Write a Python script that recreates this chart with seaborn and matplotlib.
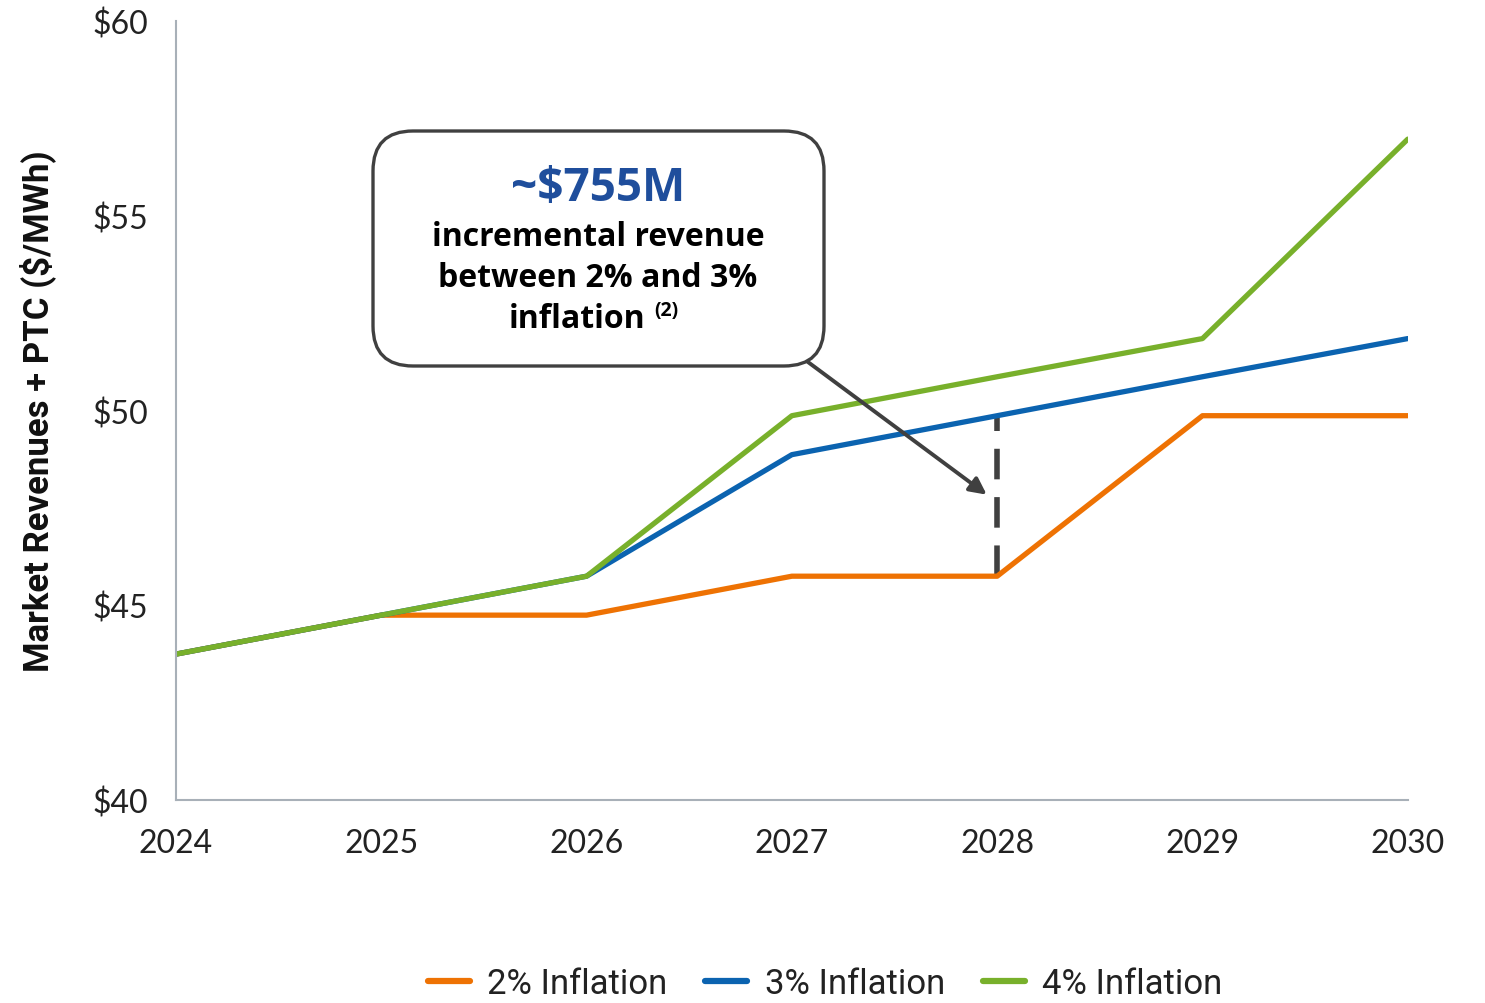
import numpy as np
import pandas as pd
import matplotlib
matplotlib.use("Agg")
import matplotlib.pyplot as plt
import seaborn as sns
from matplotlib.patches import FancyBboxPatch
from matplotlib.transforms import IdentityTransform

years = [2024, 2025, 2026, 2027, 2028, 2029, 2030]
infl_2 = [43.75, 44.75, 44.75, 45.75, 45.75, 49.87, 49.87]
infl_3 = [43.75, 44.75, 45.75, 48.87, 49.87, 50.87, 51.85]
infl_4 = [43.75, 44.75, 45.75, 49.87, 50.87, 51.85, 56.97]
series_names = ["2% Inflation", "3% Inflation", "4% Inflation"]
colors = ["#EE7203", "#0B63B0", "#78B02B"]
y_ticks = [40, 45, 50, 55, 60]
gap_year = 2028

sns.set_style("white")
plt.rcParams["font.family"] = ["Lato", "DejaVu Sans"]

df = pd.DataFrame({
    "year": years * 3,
    "value": infl_2 + infl_3 + infl_4,
    "series": [series_names[0]] * 7 + [series_names[1]] * 7 + [series_names[2]] * 7,
})

fig = plt.figure(figsize=(14.85, 10.04), dpi=100)
ax = fig.add_axes([0.1185, 0.202, 0.8295, 0.776])

sns.lineplot(data=df, x="year", y="value", hue="series", palette=colors,
             linewidth=3.8, ax=ax, legend=True)

# dashed gap marker at 2028
i = years.index(gap_year)
ax.plot([gap_year, gap_year], [infl_2[i], infl_3[i]], color="#404040",
        lw=4, ls=(0, (5.5, 3.2)), zorder=1)

ax.set_xlim(2024, 2030)
ax.set_ylim(40, 60)
ax.set_xticks(years)
ax.set_xticklabels([str(y) for y in years], fontsize=23, color="#222222")
ax.set_yticks(y_ticks)
ax.set_yticklabels([f"${v}" for v in y_ticks], fontsize=23, color="#222222")
ax.set_xlabel("")
ax.set_ylabel("Market Revenues + PTC ($/MWh)", fontsize=25, fontweight="bold",
              family=["Roboto", "DejaVu Sans"], labelpad=26, color="#111111")
for s in ["top", "right"]:
    ax.spines[s].set_visible(False)
for s in ["left", "bottom"]:
    ax.spines[s].set_color("#A8B0B8")
    ax.spines[s].set_linewidth(1.5)
ax.tick_params(axis="both", color="#A8B0B8", length=8, width=1.5, direction="out")
ax.tick_params(axis="x", pad=12)
ax.tick_params(axis="y", pad=12)

# callout box (pixel coordinates)
box = FancyBboxPatch((373, 637), 451, 235,
                     boxstyle="round,pad=0,rounding_size=40",
                     transform=IdentityTransform(),
                     fc="white", ec="#404040", lw=2.4, zorder=5)
fig.patches.append(box)
ax.annotate("", xy=(2027.96, 47.8), xytext=(2027.06, 51.32),
            arrowprops=dict(arrowstyle="-|>,head_length=1.0,head_width=0.5",
                            color="#404040", lw=2.8), zorder=6)

tfont = ["Open Sans", "DejaVu Sans"]
fig.text(0.4027, 0.812, "~$755M", ha="center", va="center", fontsize=33,
         fontweight="bold", color="#1F4E9C", family=tfont, zorder=7)
fig.text(0.4027, 0.763, "incremental revenue", ha="center", va="center", fontsize=23,
         fontweight="bold", color="black", family=tfont, zorder=7)
fig.text(0.4027, 0.723, "between 2% and 3%", ha="center", va="center", fontsize=23,
         fontweight="bold", color="black", family=tfont, zorder=7)
fig.text(0.4347, 0.682, "inflation", ha="right", va="center", fontsize=23,
         fontweight="bold", color="black", family=tfont, zorder=7)
fig.text(0.4407, 0.690, "(2)", ha="left", va="center", fontsize=14,
         fontweight="bold", color="black", family=tfont, zorder=7)

handles, labels = ax.get_legend_handles_labels()
leg = ax.legend(handles, labels, loc="lower center", bbox_to_anchor=(0.527, -0.297),
                ncol=3, frameon=False, handlelength=1.2,
                columnspacing=1.1, handletextpad=0.5,
                prop={"family": ["Roboto", "DejaVu Sans"], "size": 25})
for t in leg.get_texts():
    t.set_color("#222222")
for line in leg.get_lines():
    line.set_linewidth(4.5)
    line.set_solid_capstyle("round")

fig.savefig("out.png", dpi=100)
